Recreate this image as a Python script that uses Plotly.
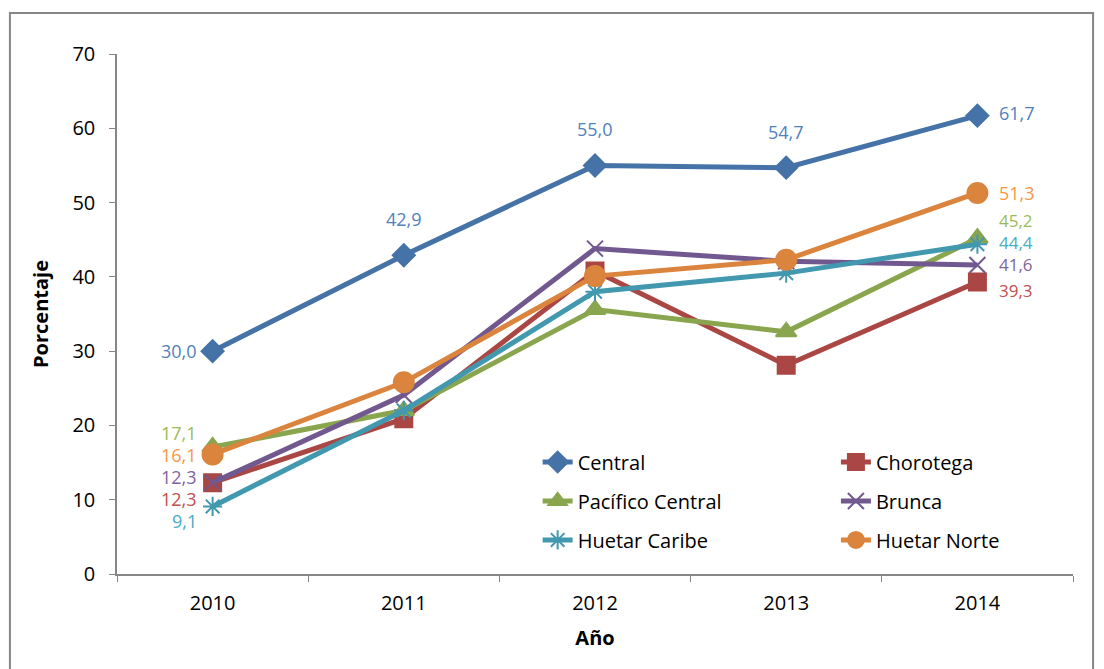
import plotly.graph_objects as go

years = ["2010", "2011", "2012", "2013", "2014"]
central = [30.0, 42.9, 55.0, 54.7, 61.7]
chorotega = [12.3, 20.9, 40.8, 28.1, 39.3]
pacifico = [17.1, 22.0, 35.6, 32.6, 45.2]
brunca = [12.3, 24.1, 43.8, 42.1, 41.6]
caribe = [9.1, 22.0, 38.0, 40.5, 44.4]
norte = [16.1, 25.8, 40.1, 42.3, 51.3]

names = ["Central", "Chorotega", "Pacífico Central", "Brunca", "Huetar Caribe", "Huetar Norte"]
series = [central, chorotega, pacifico, brunca, caribe, norte]
line_colors = ["#4572A7", "#AA4643", "#89A54E", "#71588F", "#4198AF", "#DB843D"]
label_colors = ["#4F81BD", "#C0504D", "#9BBB59", "#8064A2", "#4BACC6", "#F79646"]
symbols = ["diamond", "square", "triangle-up", "x-thin-open", "asterisk-open", "circle"]
msizes = [17, 17, 18, 16, 16, 20]
legends = ["legend", "legend2", "legend", "legend2", "legend", "legend2"]

# label vertical offsets (px) at first / last point to avoid overlap
first_shift = [0, -16, 14, 6, -15, -1]
last_shift = [3, -8, 18, 0, 2, 0]

FONT = "Open Sans"
FS = 20
LFS = 18
fig = go.Figure()
for i, (nm, vals) in enumerate(zip(names, series)):
    fig.add_trace(go.Scatter(
        x=years, y=vals, name=nm, mode="lines+markers",
        line=dict(color=line_colors[i], width=5),
        marker=dict(symbol=symbols[i], size=msizes[i], color=line_colors[i],
                    line=dict(color=line_colors[i], width=2)),
        legend=legends[i], legendgroup=nm,
    ))

ann = []
fmt = lambda v: f"{v:.1f}".replace(".", ",")
for i, vals in enumerate(series):
    ann.append(dict(x=0, y=vals[0], text=fmt(vals[0]), showarrow=False,
                    xanchor="right", yanchor="middle", xshift=-14, yshift=first_shift[i],
                    font=dict(family=FONT, size=LFS, color=label_colors[i])))
    ann.append(dict(x=len(years) - 1, y=vals[-1], text=fmt(vals[-1]), showarrow=False,
                    xanchor="left", yanchor="middle", xshift=20, yshift=last_shift[i],
                    font=dict(family=FONT, size=LFS if i not in (2, 3, 4, 1) else 17,
                              color=label_colors[i])))
for j in range(1, 4):
    ann.append(dict(x=j, y=central[j], text=fmt(central[j]), showarrow=False,
                    xanchor="center", yanchor="middle", yshift=36,
                    font=dict(family=FONT, size=LFS, color=label_colors[0])))

fig.update_layout(
    width=1104, height=669,
    margin=dict(l=117, r=31, t=54, b=95),
    plot_bgcolor="white", paper_bgcolor="white",
    font=dict(family=FONT, size=FS, color="black"),
    annotations=ann,
    legend=dict(x=0.44, y=0.253, xanchor="left", yanchor="top", bgcolor="rgba(0,0,0,0)",
                font=dict(family=FONT, size=FS), tracegroupgap=10),
    legend2=dict(x=0.752, y=0.253, xanchor="left", yanchor="top", bgcolor="rgba(0,0,0,0)",
                 font=dict(family=FONT, size=FS), tracegroupgap=10),
    shapes=[dict(type="rect", xref="paper", yref="paper", x0=-0.112, x1=1.021,
                 y0=-0.3, y1=1.079, line=dict(color="#868686", width=2))],
)
fig.update_xaxes(
    type="category", range=[-0.5, 4.5], tickson="boundaries",
    showline=True, linecolor="#868686", linewidth=1.5,
    ticks="outside", ticklen=6, tickcolor="#868686", showgrid=False,
    tickfont=dict(family=FONT, size=FS), ticklabelstandoff=10,
    title=dict(text="<b>Año</b>", font=dict(family=FONT, size=FS), standoff=16),
)
fig.update_yaxes(
    range=[0, 70], dtick=10, showline=True, linecolor="#868686", linewidth=1.5,
    ticks="outside", ticklen=6, tickcolor="#868686", showgrid=False, zeroline=False,
    tickfont=dict(family=FONT, size=FS), ticklabelstandoff=10,
    title=dict(text="<b>Porcentaje</b>", font=dict(family=FONT, size=FS), standoff=18),
)
fig.write_html("out.html", config={"displayModeBar": False},
               post_script="document.body.style.margin='0';")
